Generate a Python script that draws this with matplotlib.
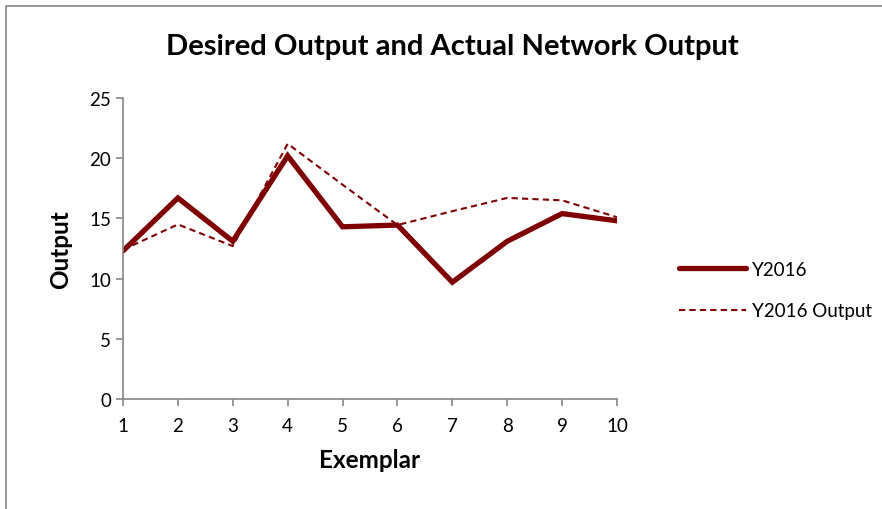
import matplotlib
matplotlib.use('Agg')
import matplotlib.pyplot as plt
from matplotlib.patches import Rectangle

# exemplar index and the two series
exemplar = [1, 2, 3, 4, 5, 6, 7, 8, 9, 10]
y2016 = [12.3, 16.7, 13.1, 20.2, 14.3, 14.45, 9.7, 13.1, 15.4, 14.8]
y2016_output = [12.4, 14.5, 12.7, 21.2, 17.8, 14.45, 15.6, 16.7, 16.5, 15.1]
yticks = [0, 5, 10, 15, 20, 25]

plt.rcParams['font.family'] = ['Lato', 'DejaVu Sans']
red = '#7f0000'
grey = '#868686'

fig = plt.figure(figsize=(8.82, 5.10), dpi=100)
ax = fig.add_axes([123 / 882, 1 - 400 / 510, (617 - 123) / 882, (400 - 99) / 510])

# chart area frame (only left and top edges are visible in the crop)
fig.patches.append(Rectangle((6 / 882, -0.1), 1.2, (510 - 7) / 510 + 0.1,
                             transform=fig.transFigure, fill=False,
                             edgecolor=grey, linewidth=1.2))

ax.plot(exemplar, y2016, color=red, lw=3.8, label='Y2016',
        solid_joinstyle='miter', solid_capstyle='round')
ax.plot(exemplar, y2016_output, color=red, lw=1.5, ls=(0, (3, 2)),
        label='Y2016 Output')

ax.set_xlim(1, 10)
ax.set_ylim(0, 25)
ax.set_xticks(exemplar)
ax.set_yticks(yticks)
for s in ['top', 'right']:
    ax.spines[s].set_visible(False)
for s in ['left', 'bottom']:
    ax.spines[s].set_color(grey)
    ax.spines[s].set_linewidth(1.2)
ax.tick_params(axis='both', colors=grey, labelcolor='black', labelsize=13.5,
               length=5, width=1.2)
ax.tick_params(axis='x', pad=8)

ax.set_xlabel('Exemplar', fontsize=17.5, fontweight='bold', labelpad=10)
ax.set_ylabel('Output', fontsize=17.5, fontweight='bold', labelpad=12)
fig.text(452 / 882, 1 - 47 / 510, 'Desired Output and Actual Network Output',
         ha='center', va='center', fontsize=21, fontweight='bold')

ax.legend(loc='center left', bbox_to_anchor=(662 / 882, 1 - 291 / 510),
          bbox_transform=fig.transFigure, frameon=False, fontsize=13.5,
          handlelength=3.6, labelspacing=1.3, handletextpad=0.3)

fig.savefig('out.png', dpi=100)
